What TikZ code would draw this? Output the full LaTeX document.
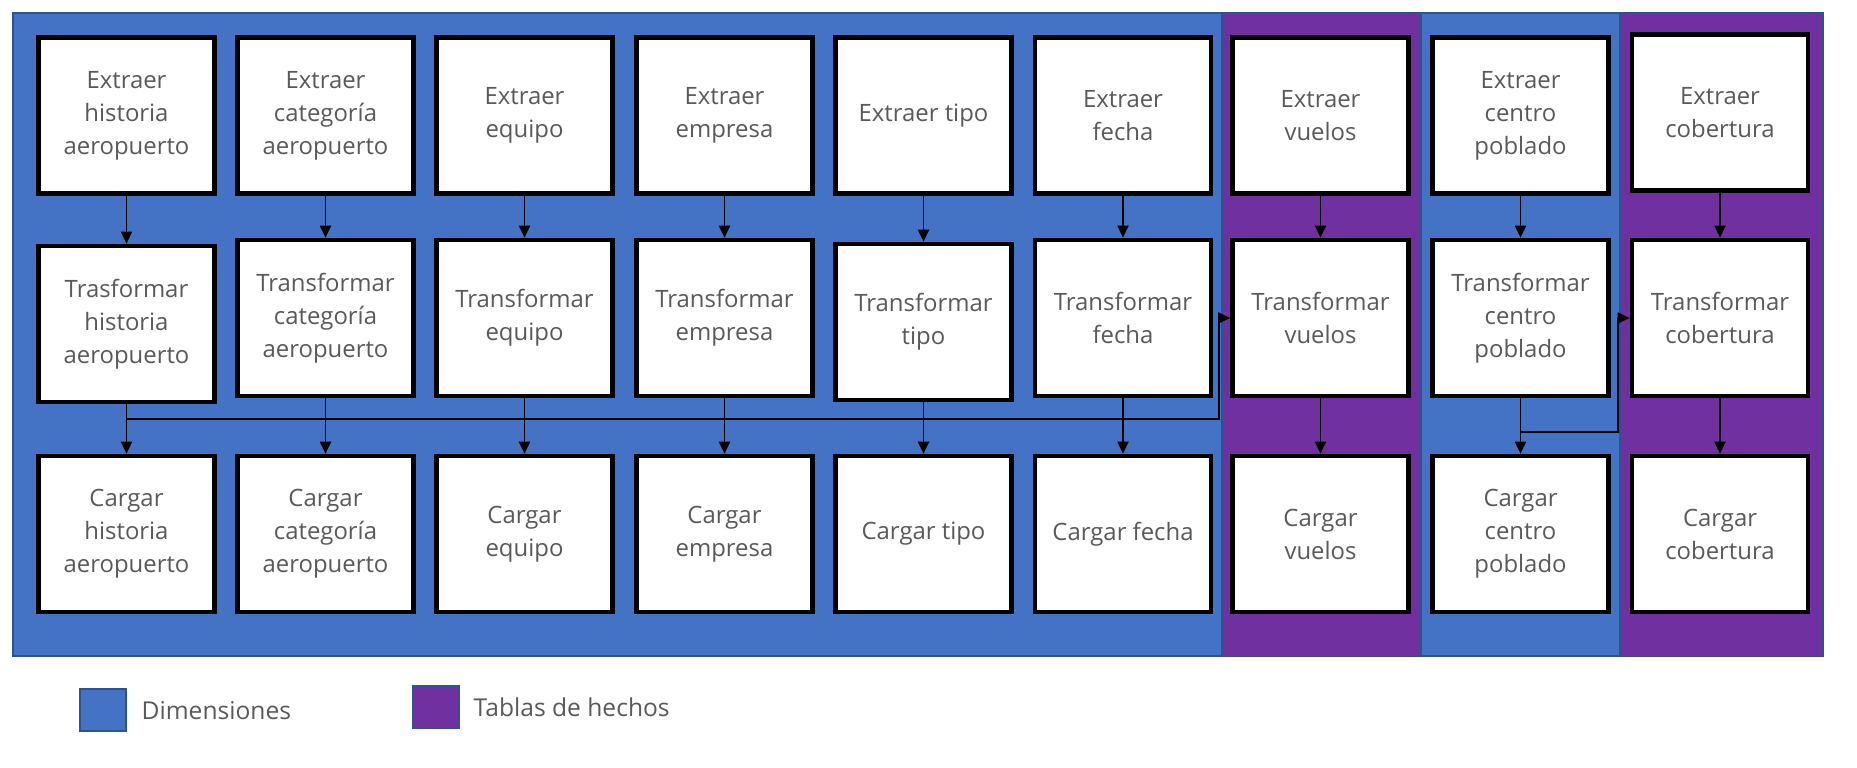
\documentclass[tikz,border=0pt]{standalone}
\usepackage{fontspec}
\setmainfont{Open Sans}
\usetikzlibrary{arrows.meta}
\definecolor{dimblue}{HTML}{4472C4}
\definecolor{factpurple}{HTML}{7030A0}
\definecolor{edgeblue}{HTML}{2F528F}
\definecolor{textgray}{HTML}{595959}

\begin{document}
\begin{tikzpicture}[x=0.1mm, y=-0.1mm,
    etlbox/.style={draw=black, fill=white, line width=1.28pt, minimum width=17.63mm, minimum height=15.63mm, inner sep=0pt, align=center, text=textgray, font=\fontsize{6.8}{9.4}\selectfont},
    flow/.style={-{Triangle[length=3.4pt, width=3.2pt]}, line width=0.35pt},
    band/.style={draw=edgeblue, line width=0.5pt},
    keybox/.style={draw=edgeblue, line width=0.6pt, minimum width=4.6mm, minimum height=4.2mm, inner sep=0pt},
    keytext/.style={anchor=west, inner sep=0pt, text=textgray, font=\fontsize{7}{9}\selectfont}]
    \useasboundingbox (0,0) rectangle (1857,767);
    % background bands
    \filldraw[band, fill=dimblue] (13,13) rectangle (1222,656);
    \filldraw[band, fill=factpurple] (1222,13) rectangle (1421,656);
    \filldraw[band, fill=dimblue] (1421,13) rectangle (1620,656);
    \filldraw[band, fill=factpurple] (1620,13) rectangle (1823,656);
    \draw[edgeblue, line width=0.7pt] (13,13) rectangle (1823,656);
    % extraer
    \node[etlbox] (e1) at (126.5,115.5) {Extraer\\historia\\aeropuerto};
    \node[etlbox] (e2) at (325.5,115.5) {Extraer\\categoría\\aeropuerto};
    \node[etlbox] (e3) at (524.5,115.5) {Extraer\\equipo};
    \node[etlbox] (e4) at (724.5,115.5) {Extraer\\empresa};
    \node[etlbox] (e5) at (923.5,115.5) {Extraer tipo};
    \node[etlbox] (e6) at (1123,115.5) {Extraer\\fecha};
    \node[etlbox] (e7) at (1320.5,115.5) {Extraer\\vuelos};
    \node[etlbox] (e8) at (1520.5,115.5) {Extraer\\centro\\poblado};
    \node[etlbox] (e9) at (1720,112.5) {Extraer\\cobertura};
    % transformar
    \node[etlbox] (t1) at (126.5,324) {Trasformar\\historia\\aeropuerto};
    \node[etlbox] (t2) at (325.5,318) {Transformar\\categoría\\aeropuerto};
    \node[etlbox] (t3) at (524.5,318) {Transformar\\equipo};
    \node[etlbox] (t4) at (724.5,318) {Transformar\\empresa};
    \node[etlbox] (t5) at (923.5,322) {Transformar\\tipo};
    \node[etlbox] (t6) at (1123,318) {Transformar\\fecha};
    \node[etlbox] (t7) at (1320.5,318) {Transformar\\vuelos};
    \node[etlbox] (t8) at (1520.5,318) {Transformar\\centro\\poblado};
    \node[etlbox] (t9) at (1720,318) {Transformar\\cobertura};
    % cargar
    \node[etlbox] (c1) at (126.5,534) {Cargar\\historia\\aeropuerto};
    \node[etlbox] (c2) at (325.5,534) {Cargar\\categoría\\aeropuerto};
    \node[etlbox] (c3) at (524.5,534) {Cargar\\equipo};
    \node[etlbox] (c4) at (724.5,534) {Cargar\\empresa};
    \node[etlbox] (c5) at (923.5,534) {Cargar tipo};
    \node[etlbox] (c6) at (1123,534) {Cargar fecha};
    \node[etlbox] (c7) at (1320.5,534) {Cargar\\vuelos};
    \node[etlbox] (c8) at (1520.5,534) {Cargar\\centro\\poblado};
    \node[etlbox] (c9) at (1720,534) {Cargar\\cobertura};
    % flujo
    \draw[flow] (e1) -- (t1);
    \draw[flow] (e2) -- (t2);
    \draw[flow] (e3) -- (t3);
    \draw[flow] (e4) -- (t4);
    \draw[flow] (e5) -- (t5);
    \draw[flow] (e6) -- (t6);
    \draw[flow] (e7) -- (t7);
    \draw[flow] (e8) -- (t8);
    \draw[flow] (e9) -- (t9);
    \draw[flow] (t1) -- (c1);
    \draw[flow] (t2) -- (c2);
    \draw[flow] (t3) -- (c3);
    \draw[flow] (t4) -- (c4);
    \draw[flow] (t5) -- (c5);
    \draw[flow] (t6) -- (c6);
    \draw[flow] (t7) -- (c7);
    \draw[flow] (t8) -- (c8);
    \draw[flow] (t9) -- (c9);
    % dimensiones hacia hechos
    \coordinate (j1) at (1219,419);
    \coordinate (j2) at (1618,432);
    \draw[flow] (t1.south) |- (j1) |- (t7.west);
    \draw[flow] (t8.south) |- (j2) |- (t9.west);
    % leyenda
    \node[keybox, fill=dimblue] (dimkey) at (103,710) {};
    \node[keytext] (dimlabel) at (141,711) {Dimensiones};
    \node[keybox, fill=factpurple] (factkey) at (436,707) {};
    \node[keytext] (factlabel) at (473,707) {Tablas de hechos};
\end{tikzpicture}
\end{document}
